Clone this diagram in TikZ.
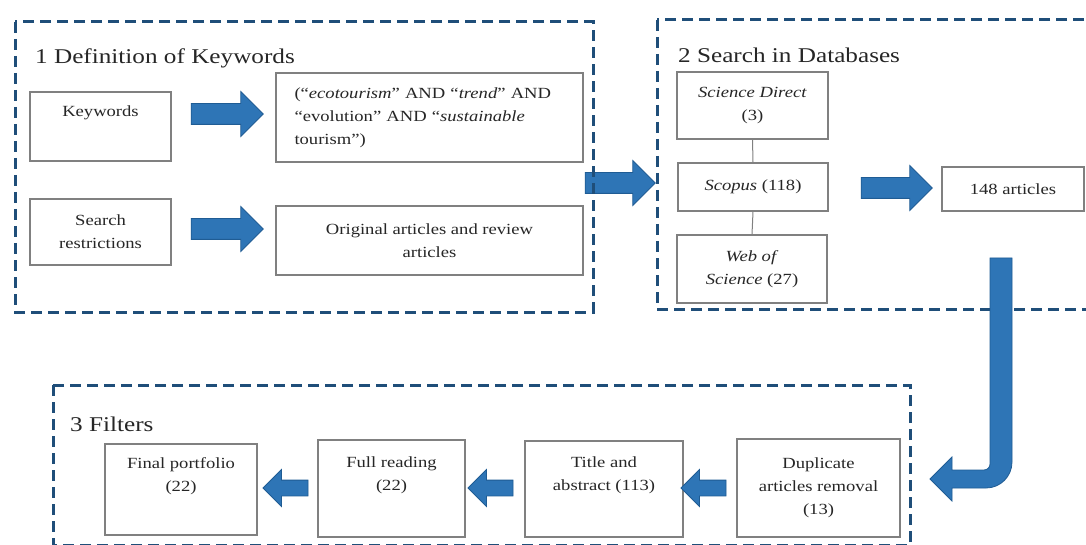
\documentclass[tikz,border=0pt]{standalone}
\usepackage{fontspec}
\setmainfont{Liberation Serif}[FakeStretch=1.2]
\usetikzlibrary{shapes.arrows}
\definecolor{dashblue}{HTML}{1F4E79}
\definecolor{arrowblue}{HTML}{2E75B6}
\definecolor{arrowedge}{HTML}{1F5C94}
\definecolor{boxgray}{HTML}{808080}
\begin{document}
\begin{tikzpicture}[x=1pt,y=-1pt,
  stage/.style={draw=dashblue, line width=3pt, dash pattern=on 11pt off 6pt},
  box/.style={draw=boxgray, line width=1.3pt, fill=white, inner sep=0pt, align=center,
              text=black!85, font=\fontsize{15.5}{23}\selectfont},
  fat/.style={single arrow, draw=arrowedge, fill=arrowblue, line width=0.8pt,
              inner xsep=0pt, single arrow head indent=0pt, single arrow tip angle=90},
  bigfat/.style={fat, inner ysep=10pt, single arrow head extend=12pt},
  smallfat/.style={fat, inner ysep=7.5pt, single arrow head extend=10.5pt,
              minimum height=45pt, shape border rotate=180},
  title/.style={anchor=base west, inner sep=0pt, text=black!85, font=\fontsize{21}{24}\selectfont},
  link/.style={draw=boxgray, line width=1pt}
]
\useasboundingbox (0,0) rectangle (1086,545);
\fill[white] (0,0) rectangle (1086,545);

% ---------- stage 1 ----------
\node[title] (t1) at (35,64) {1 Definition of Keywords};
\node[box, minimum width=141pt, minimum height=69pt] (kw) at (100.5,126.5) {Keywords\\\strut};
\node[box, minimum width=307pt, minimum height=89pt, align=left, text width=270pt] (q) at (429.5,117.5)
  {(“\textit{ecotourism}” AND “\textit{trend}” AND\\“evolution” AND “\textit{sustainable}\\tourism”)};
\node[box, minimum width=141pt, minimum height=66pt] (sr) at (100.5,232) {Search\\restrictions};
\node[box, minimum width=307pt, minimum height=69pt] (orig) at (429.5,240.5) {Original articles and review\\articles};
\node[bigfat, minimum height=72pt] (a1) at (222,114) {};
\node[bigfat, minimum height=72pt] (a2) at (222,229) {};

% ---------- between stage 1 and 2 ----------
\node[bigfat, minimum height=70pt] (a12) at (615,183) {};

% ---------- stage 2 ----------
\node[title] (t2) at (678,63) {2 Search in Databases};
\node[box, minimum width=151pt, minimum height=67pt] (sd) at (752.5,105.5) {\textit{Science Direct}\\(3)};
\node[box, minimum width=150pt, minimum height=48pt] (sc) at (753,187) {\textit{Scopus} (118)};
\node[box, minimum width=150pt, minimum height=68pt] (ws) at (752,269) {\textit{Web of}\\\textit{Science} (27)};
\node[box, minimum width=142pt, minimum height=44pt] (arts) at (1013,189) {148 articles};
\draw[link] (sd.south) -- (sc.north);
\draw[link] (sc.south) -- (ws.north);
\node[bigfat, minimum height=71pt] (a3) at (891.5,188) {};

% ---------- stage 3 ----------
\node[title] (t3) at (70,431) {3 Filters};
\node[box, minimum width=152pt, minimum height=91pt] (final) at (181,489.5) {Final portfolio\\(22)\\\strut};
\node[box, minimum width=147pt, minimum height=97pt] (full) at (391.5,488.5) {Full reading\\(22)\\\strut};
\node[box, minimum width=158pt, minimum height=96pt] (tab) at (604,489) {Title and\\abstract (113)\\\strut};
\node[box, minimum width=163pt, minimum height=98pt] (dup) at (818.5,488) {Duplicate\\articles removal\\(13)};
\node[smallfat] (a4) at (707.5,488) {};
\node[smallfat] (a5) at (494.5,488) {};
\node[smallfat] (a6) at (289.5,488) {};

% ---------- dashed stage frames ----------
\draw[stage] (15,22) rectangle (593,312);
\draw[stage] (657,20) rectangle (1100,309);
\draw[stage] (53,385) rectangle (910,545);

% ---------- bent arrow from stage 2 to stage 3 ----------
\filldraw[fill=arrowblue, draw=arrowedge, line width=0.8pt]
  (990,258) -- (1012,258) -- (1012,462)
  .. controls (1012,476.4) and (1000.4,488) .. (986,488)
  -- (952,488) -- (952,501) -- (930,479) -- (952,457) -- (952,470) -- (984,470)
  .. controls (987.3,470) and (990,467.3) .. (990,464) -- cycle;
\end{tikzpicture}
\end{document}
